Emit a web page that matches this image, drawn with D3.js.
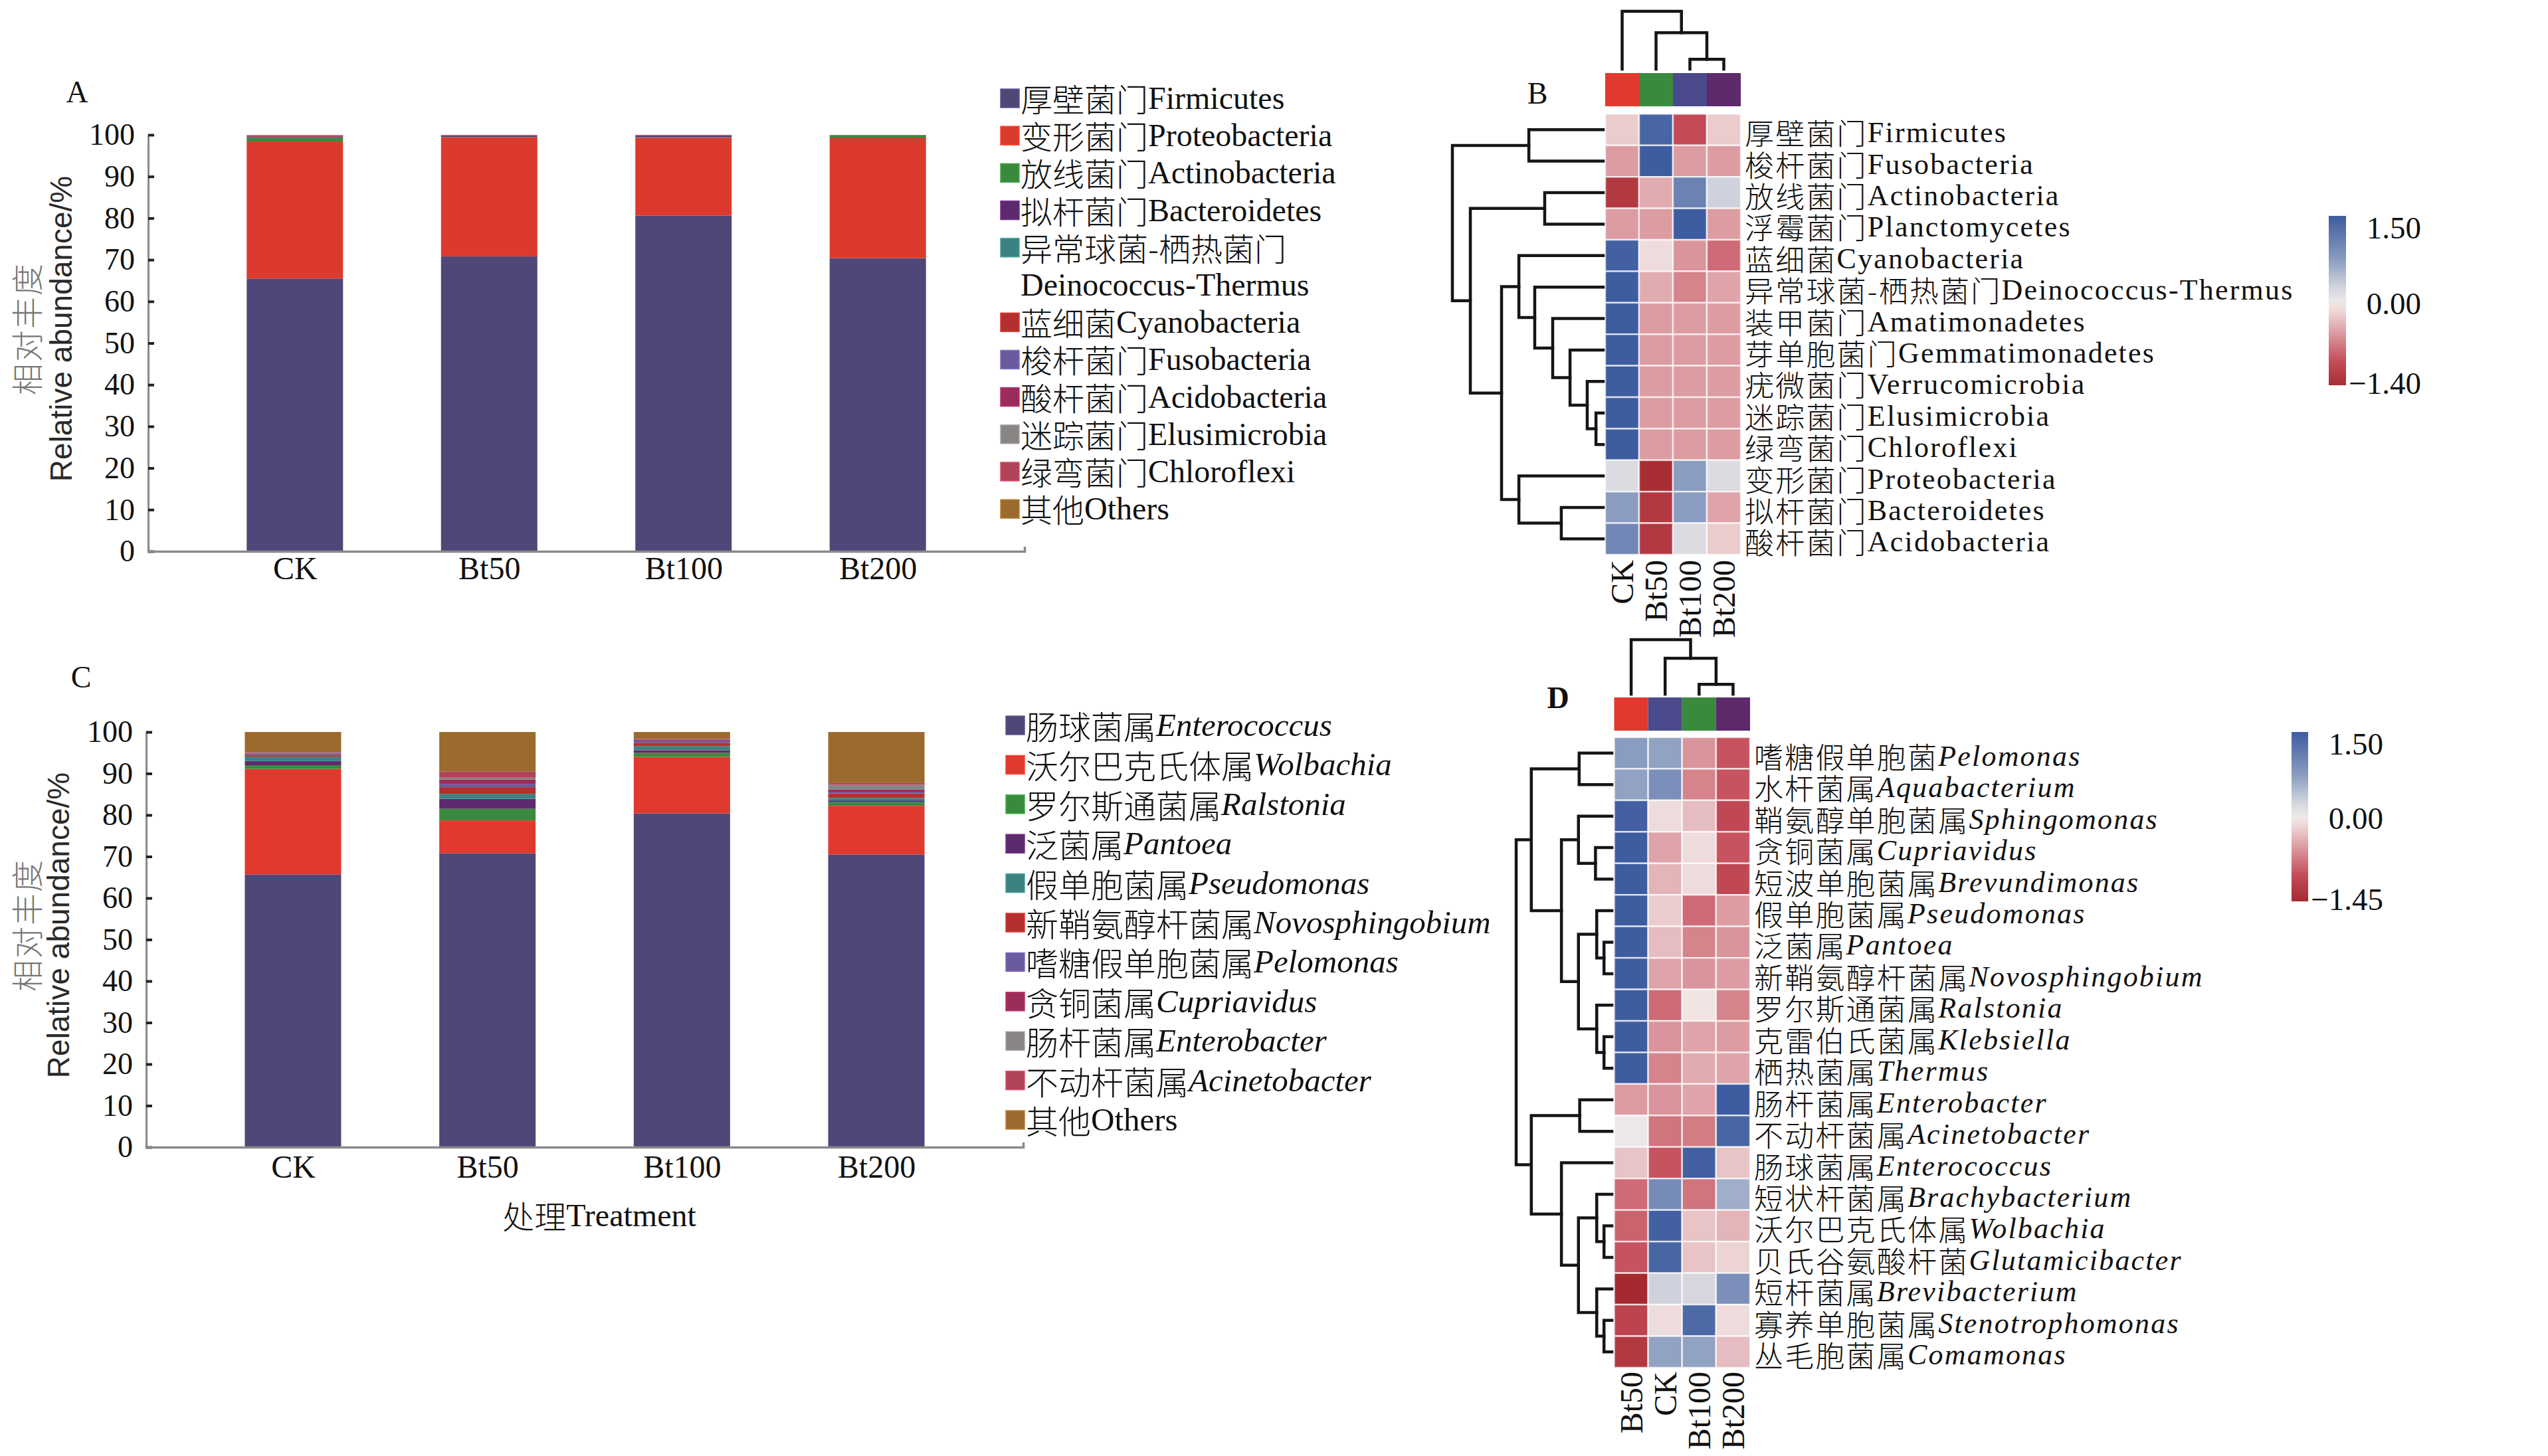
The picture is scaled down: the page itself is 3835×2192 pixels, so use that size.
<!DOCTYPE html>
<html><head><meta charset="utf-8">
<script src="https://cdn.jsdelivr.net/npm/d3@7"></script>
<style>html,body{margin:0;padding:0;background:#fff}svg{display:block}</style>
</head><body>
<svg id="fig" width="3835" height="2192"></svg>
<script>
// ---------------- DATA ----------------
const treatments = ["CK", "Bt50", "Bt100", "Bt200"];
const yTickValues = [0, 10, 20, 30, 40, 50, 60, 70, 80, 90, 100];

// Panel A: phylum-level relative abundance (%)
const phylumCN = ["厚壁菌门", "变形菌门", "放线菌门", "拟杆菌门", "异常球菌-栖热菌门", "蓝细菌", "梭杆菌门", "酸杆菌门", "迷踪菌门", "绿弯菌门", "其他"];
const phylumEN = ["Firmicutes", "Proteobacteria", "Actinobacteria", "Bacteroidetes", "Deinococcus-Thermus", "Cyanobacteria", "Fusobacteria", "Acidobacteria", "Elusimicrobia", "Chloroflexi", "Others"];
const phylumColors = ["#4e4777", "#dc3a2e", "#3a8a3e", "#5e2a6e", "#3b8380", "#b3302e", "#6a5a9e", "#9c2c5a", "#8a8585", "#b04358", "#9a6a2e"];
const phylumCK    = [65.5, 32.9, 0.9, 0.2, 0.05, 0.25, 0.05, 0.05, 0.03, 0.03, 0.04];
const phylumBt50  = [70.8, 28.6, 0.1, 0.3, 0.02, 0.12, 0.02, 0.02, 0.01, 0.01, 0.0];
const phylumBt100 = [80.6, 18.7, 0.1, 0.4, 0.02, 0.14, 0.02, 0.02, 0.0, 0.0, 0.0];
const phylumBt200 = [70.4, 28.8, 0.7, 0.05, 0.01, 0.02, 0.01, 0.01, 0.0, 0.0, 0.0];

// Panel C: genus-level relative abundance (%)
const genusCN = ["肠球菌属", "沃尔巴克氏体属", "罗尔斯通菌属", "泛菌属", "假单胞菌属", "新鞘氨醇杆菌属", "嗜糖假单胞菌属", "贪铜菌属", "肠杆菌属", "不动杆菌属", "其他"];
const genusEN = ["Enterococcus", "Wolbachia", "Ralstonia", "Pantoea", "Pseudomonas", "Novosphingobium", "Pelomonas", "Cupriavidus", "Enterobacter", "Acinetobacter", "Others"];
const genusItalic = [true, true, true, true, true, true, true, true, true, true, false];
const genusColors = ["#4e4777", "#e0392d", "#3a8a3e", "#5e2a6e", "#3b8380", "#b3302e", "#6a5a9e", "#9c2c5a", "#8a8585", "#b04358", "#9a6a2e"];
const genusCK    = [65.7, 25.4, 0.9, 1.0, 1.1, 0.4, 0.3, 0.2, 0.1, 0.1, 4.8];
const genusBt50  = [70.8, 7.9, 2.8, 2.4, 1.2, 1.6, 0.8, 1.0, 0.5, 1.5, 9.5];
const genusBt100 = [80.4, 13.6, 1.0, 0.6, 1.0, 0.8, 0.5, 0.3, 0.1, 0.1, 1.6];
const genusBt200 = [70.5, 11.7, 0.9, 0.4, 0.6, 1.1, 0.4, 0.5, 1.2, 0.4, 12.3];

// Panel B: phylum heatmap (z-score)
const heatBCols = ["CK", "Bt50", "Bt100", "Bt200"];
const heatBColColors = ["#e0392d", "#3a8a3e", "#4a4a8c", "#5e2a6b"];
const heatBRowCN = ["厚壁菌门", "梭杆菌门", "放线菌门", "浮霉菌门", "蓝细菌", "异常球菌-栖热菌门", "装甲菌门", "芽单胞菌门", "疣微菌门", "迷踪菌门", "绿弯菌门", "变形菌门", "拟杆菌门", "酸杆菌门"];
const heatBRowEN = ["Firmicutes", "Fusobacteria", "Actinobacteria", "Planctomycetes", "Cyanobacteria", "Deinococcus-Thermus", "Amatimonadetes", "Gemmatimonadetes", "Verrucomicrobia", "Elusimicrobia", "Chloroflexi", "Proteobacteria", "Bacteroidetes", "Acidobacteria"];
const heatBValues = [
  [-0.2, 1.4, -1.0, -0.2],
  [-0.5, 1.5, -0.5, -0.5],
  [-1.25, -0.4, 1.05, 0.3],
  [-0.5, -0.5, 1.5, -0.5],
  [1.45, -0.1, -0.55, -0.8],
  [1.5, -0.4, -0.65, -0.45],
  [1.5, -0.5, -0.5, -0.5],
  [1.5, -0.5, -0.5, -0.5],
  [1.5, -0.5, -0.5, -0.5],
  [1.5, -0.5, -0.5, -0.5],
  [1.5, -0.5, -0.5, -0.5],
  [0.2, -1.4, 0.75, 0.2],
  [0.75, -1.25, 0.75, -0.45],
  [1.0, -1.25, 0.2, -0.2]
];
// dendrograms: [height, left, right]; leaves are row/column indices
const heatBRowTree = [1.0, [0.493, 0, 1], [0.881, [0.388, 2, 3], [0.674, [0.559, 4, [0.454, 5, [0.335, 6, [0.22, 7, [0.106, 8, [0.048, 9, 10]]]]]], [0.559, 11, [0.278, 12, 13]]]]];
const heatBColTree = [1.0, 0, [0.63, 1, [0.17, 2, 3]]];
const heatBLegendTicks = [1.5, 0, -1.4];

// Panel D: genus heatmap (z-score)
const heatDCols = ["Bt50", "CK", "Bt100", "Bt200"];
const heatDColColors = ["#e0392d", "#4a4a8c", "#3a8a3e", "#5e2a6b"];
const heatDRowCN = ["嗜糖假单胞菌", "水杆菌属", "鞘氨醇单胞菌属", "贪铜菌属", "短波单胞菌属", "假单胞菌属", "泛菌属", "新鞘氨醇杆菌属", "罗尔斯通菌属", "克雷伯氏菌属", "栖热菌属", "肠杆菌属", "不动杆菌属", "肠球菌属", "短状杆菌属", "沃尔巴克氏体属", "贝氏谷氨酸杆菌", "短杆菌属", "寡养单胞菌属", "丛毛胞菌属"];
const heatDRowEN = ["Pelomonas", "Aquabacterium", "Sphingomonas", "Cupriavidus", "Brevundimonas", "Pseudomonas", "Pantoea", "Novosphingobium", "Ralstonia", "Klebsiella", "Thermus", "Enterobacter", "Acinetobacter", "Enterococcus", "Brachybacterium", "Wolbachia", "Glutamicibacter", "Brevibacterium", "Stenotrophomonas", "Comamonas"];
const heatDValues = [
  [0.75, 0.7, -0.55, -0.95],
  [0.7, 0.9, -0.65, -0.95],
  [1.45, -0.1, -0.3, -1.05],
  [1.5, -0.45, -0.1, -0.95],
  [1.5, -0.35, -0.1, -1.05],
  [1.5, -0.2, -0.8, -0.5],
  [1.5, -0.3, -0.65, -0.55],
  [1.5, -0.45, -0.55, -0.5],
  [1.5, -0.8, -0.05, -0.65],
  [1.5, -0.55, -0.45, -0.5],
  [1.5, -0.65, -0.4, -0.45],
  [-0.5, -0.55, -0.45, 1.5],
  [0.05, -0.75, -0.7, 1.4],
  [-0.25, -0.95, 1.45, -0.25],
  [-0.8, 0.95, -0.75, 0.6],
  [-0.85, 1.45, -0.25, -0.35],
  [-0.95, 1.4, -0.25, -0.15],
  [-1.45, 0.3, 0.25, 0.9],
  [-1.1, -0.1, 1.35, -0.1],
  [-1.25, 0.7, 0.7, -0.3]
];
const heatDRowTree = [1.0,
  [0.842, [0.342, 0, 1], [0.527, [0.349, 2, [0.171, 3, 4]], [0.349, [0.158, 5, [0.082, 6, 7]], [0.158, 8, [0.082, 9, 10]]]]],
  [0.842, [0.336, 11, 12], [0.527, 13, [0.349, [0.158, 14, [0.082, 15, 16]], [0.158, 17, [0.082, 18, 19]]]]]];
const heatDColTree = [1.0, 0, [0.66, 1, [0.18, 2, 3]]];
const heatDLegendTicks = [1.5, 0, -1.45];

// ---------------- STYLE ----------------
const SERIF = "'Liberation Serif','Times New Roman',serif";
const SANS = "'Liberation Sans',Arial,sans-serif";
const CJK = "'Noto Sans CJK SC','Noto Sans CJK JP',sans-serif";
const heatStops = [-1.45, -1.0, -0.5, 0, 0.3, 0.75, 1.5];
const heatStopColors = ["#a52a30", "#c34b58", "#dc9ca2", "#f3ecea", "#cfd2dc", "#8a9cc0", "#3e5ca0"];
const heatColor = d3.scaleLinear().domain(heatStops).range(heatStopColors).interpolate(d3.interpolateRgb).clamp(true);

const svg = d3.select("#fig");
svg.append("rect").attr("width", 3835).attr("height", 2192).attr("fill", "#fff");

function mixedLabel(sel, cn, en, italic, size, spacing) {
  sel.append("tspan").attr("font-family", CJK).attr("font-weight", 300).attr("font-size", size)
    .attr("letter-spacing", spacing || 0).text(cn);
  sel.append("tspan").attr("font-family", SERIF).attr("font-size", size)
    .attr("letter-spacing", spacing || 0)
    .attr("font-style", italic ? "italic" : "normal").text(en);
}

// ---------------- BAR PANELS ----------------
function barPanel(o) {
  const g = svg.append("g");
  const y = d3.scaleLinear().domain([0, 100]).range([o.y0, o.y100]);
  const x = d3.scalePoint().domain(treatments).range([o.x0, o.x1]).padding(0.755);
  const rows = treatments.map((t, i) => {
    const r = { t };
    o.keys.forEach((k, j) => r[k] = o.values[i][j]);
    return r;
  });
  const series = d3.stack().keys(o.keys)(rows);
  g.selectAll("g.layer").data(series).join("g").attr("class", "layer")
    .attr("fill", (d, i) => o.colors[i])
    .selectAll("rect").data(d => d).join("rect")
    .attr("x", d => x(d.data.t) - o.bw / 2)
    .attr("width", o.bw)
    .attr("y", d => y(d[1]))
    .attr("height", d => Math.max(0, y(d[0]) - y(d[1])));

  const ya = g.append("g").attr("transform", `translate(${o.x0},0)`)
    .call(d3.axisLeft(y).tickValues(yTickValues).tickSize(-9).tickSizeOuter(0).tickPadding(20));
  ya.select(".domain").attr("stroke", "#8a8a8a").attr("stroke-width", 3);
  ya.selectAll(".tick line").attr("stroke", "#222").attr("stroke-width", 4);
  ya.selectAll(".tick text").attr("font-family", SERIF).attr("font-size", 46).attr("fill", "#111");

  const xa = g.append("g").attr("transform", `translate(0,${o.y0})`)
    .call(d3.axisBottom(x).tickSize(0).tickSizeOuter(-7));
  xa.select(".domain").attr("stroke", "#8a8a8a").attr("stroke-width", 3.5);
  xa.selectAll(".tick text").attr("font-family", SERIF).attr("font-size", 48).attr("fill", "#111")
    .attr("y", o.xLabelY - o.y0).attr("dy", "0.35em");

  // axis titles
  g.append("text").attr("transform", `translate(${o.cnX},${o.titleY}) rotate(-90)`)
    .attr("text-anchor", "middle").attr("dominant-baseline", "central")
    .attr("font-family", CJK).attr("font-weight", 300).attr("font-size", 48).attr("letter-spacing", 2)
    .attr("fill", "#777").text("相对丰度");
  g.append("text").attr("transform", `translate(${o.enX},${o.titleY}) rotate(-90)`)
    .attr("text-anchor", "middle").attr("dominant-baseline", "central")
    .attr("font-family", SANS).attr("font-size", 46).attr("fill", "#2a2a2a").text("Relative abundance/%");

  g.append("text").attr("x", o.letterX).attr("y", o.letterY).attr("dominant-baseline", "central")
    .attr("text-anchor", "middle").attr("font-family", SERIF).attr("font-size", 46).attr("fill", "#111").text(o.letter);

  // legend
  const lg = g.append("g");
  let row = 0;
  o.cn.forEach((cn, i) => {
    const cy = o.legY + row * o.legDy;
    lg.append("rect").attr("x", o.legX).attr("y", cy - 13).attr("width", 28).attr("height", 28)
      .attr("fill", o.colors[i]).attr("stroke", d3.color(o.colors[i]).brighter(0.6)).attr("stroke-width", 1.5);
    if (o.wrap && o.wrap[i]) {
      lg.append("text").attr("x", o.legX + 30).attr("y", cy).attr("dominant-baseline", "central")
        .attr("fill", "#111").call(s => mixedLabel(s, cn, "", false, o.legFont));
      row++;
      lg.append("text").attr("x", o.legX + 30).attr("y", o.legY + row * o.legDy).attr("dominant-baseline", "central")
        .attr("fill", "#111").call(s => mixedLabel(s, "", o.en[i], false, o.legFont));
    } else {
      lg.append("text").attr("x", o.legX + 30).attr("y", cy).attr("dominant-baseline", "central")
        .attr("fill", "#111")
        .call(s => mixedLabel(s, cn, o.en[i], o.italic ? o.italic[i] : false, o.legFont));
    }
    row++;
  });
}

barPanel({
  keys: phylumEN, values: [phylumCK, phylumBt50, phylumBt100, phylumBt200], colors: phylumColors,
  x0: 223, x1: 1542, y0: 830, y100: 203, bw: 145, xLabelY: 855,
  cnX: 38, enX: 92, titleY: 495, letter: "A", letterX: 116, letterY: 138,
  cn: phylumCN, en: phylumEN, wrap: [false, false, false, false, true, false, false, false, false, false, false],
  legX: 1506, legY: 147, legDy: 56.2, legFont: 48
});

barPanel({
  keys: genusEN, values: [genusCK, genusBt50, genusBt100, genusBt200], colors: genusColors,
  x0: 220, x1: 1540, y0: 1727, y100: 1102, bw: 145, xLabelY: 1756,
  cnX: 38, enX: 88, titleY: 1393, letter: "C", letterX: 122, letterY: 1019,
  cn: genusCN, en: genusEN, italic: genusItalic,
  legX: 1514, legY: 1091, legDy: 59.4, legFont: 49
});

svg.append("text").attr("x", 902).attr("y", 1829).attr("text-anchor", "middle").attr("dominant-baseline", "central")
  .attr("fill", "#111").call(s => mixedLabel(s, "处理", "Treatment", false, 48));

// ---------------- HEATMAP PANELS ----------------
function treeSegments(node, leafPos, hPos, horizontal, segs) {
  if (typeof node === "number") return { p: leafPos(node), h: 0 };
  const [h, a, b] = node;
  const la = treeSegments(a, leafPos, hPos, horizontal, segs);
  const lb = treeSegments(b, leafPos, hPos, horizontal, segs);
  const hp = hPos(h);
  if (horizontal) {
    segs.push([[hPos(la.h), la.p], [hp, la.p], [hp, lb.p], [hPos(lb.h), lb.p]]);
  } else {
    segs.push([[la.p, hPos(la.h)], [la.p, hp], [lb.p, hp], [lb.p, hPos(lb.h)]]);
  }
  return { p: (la.p + lb.p) / 2, h };
}

function heatPanel(o) {
  const g = svg.append("g");
  const x = d3.scaleBand().domain(o.cols).range([o.x0, o.x1]);
  const y = d3.scaleBand().domain(d3.range(o.values.length)).range([o.y0, o.y1]);
  const cells = o.values.flatMap((r, i) => r.map((v, j) => ({ i, j, v })));
  g.selectAll("rect.cell").data(cells).join("rect").attr("class", "cell")
    .attr("x", d => x(o.cols[d.j])).attr("y", d => y(d.i))
    .attr("width", x.bandwidth()).attr("height", y.bandwidth())
    .attr("fill", d => heatColor(d.v))
    .attr("stroke", "rgba(255,255,255,0.7)").attr("stroke-width", 2.5);

  // column colour bar
  g.selectAll("rect.cb").data(o.cols).join("rect").attr("class", "cb")
    .attr("x", d => x(d)).attr("y", o.cbY0).attr("width", x.bandwidth()).attr("height", o.cbY1 - o.cbY0)
    .attr("fill", (d, i) => o.colColors[i]);

  // row labels
  g.selectAll("text.rl").data(o.rowCN).join("text").attr("class", "rl")
    .attr("x", o.labelX).attr("y", (d, i) => y(i) + y.bandwidth() / 2 + 4).attr("dominant-baseline", "central")
    .attr("fill", "#111")
    .each(function (d, i) { mixedLabel(d3.select(this), d, o.rowEN[i], o.italic, 44, 2.2); });

  // column labels
  g.selectAll("text.cl").data(o.cols).join("text").attr("class", "cl")
    .attr("transform", d => `translate(${x(d) + x.bandwidth() / 2},${o.colLabelY}) rotate(-90)`)
    .attr("text-anchor", "end").attr("dominant-baseline", "central")
    .attr("font-family", SERIF).attr("font-size", 48).attr("fill", "#111").text(d => d);

  // dendrograms
  const hx = d3.scaleLinear().domain([0, 1]).range([o.rowLeafX, o.rowRootX]);
  const rsegs = [];
  treeSegments(o.rowTree, i => y(i) + y.bandwidth() / 2, hx, true, rsegs);
  const hy = d3.scaleLinear().domain([0, 1]).range([o.colLeafY, o.colRootY]);
  const csegs = [];
  treeSegments(o.colTree, j => x(o.cols[j]) + x.bandwidth() / 2, hy, false, csegs);
  const line = d3.line();
  g.selectAll("path.tree").data(rsegs.concat(csegs)).join("path").attr("class", "tree")
    .attr("d", line).attr("fill", "none").attr("stroke", "#151515").attr("stroke-width", 4.5)
    .attr("stroke-linejoin", "miter").attr("stroke-linecap", "square");

  // letter
  g.append("text").attr("x", o.letterX).attr("y", o.letterY).attr("text-anchor", "middle").attr("dominant-baseline", "central")
    .attr("font-family", SERIF).attr("font-size", 46).attr("font-weight", o.letterBold ? "bold" : "normal").attr("fill", "#111").text(o.letter);

  // colour legend
  const lo = d3.min(o.legendTicks), hi = d3.max(o.legendTicks);
  const gid = "grad" + o.letter;
  const grad = svg.append("defs").append("linearGradient").attr("id", gid)
    .attr("x1", 0).attr("x2", 0).attr("y1", 1).attr("y2", 0);
  d3.range(0, 1.0001, 0.05).forEach(t => {
    const v = lo + (hi - lo) * t;
    grad.append("stop").attr("offset", t).attr("stop-color", heatColor(v));
  });
  g.append("rect").attr("x", o.legX).attr("y", o.legY0).attr("width", o.legW).attr("height", o.legY1 - o.legY0)
    .attr("fill", `url(#${gid})`);
  const ly = d3.scaleLinear().domain([lo, hi]).range([o.legY1, o.legY0]);
  g.selectAll("text.lt").data(o.legendTicks).join("text").attr("class", "lt")
    .attr("x", o.legLabelR).attr("y", d => Math.min(Math.max(ly(d), o.legY0 + 18), o.legY1 - 3))
    .attr("text-anchor", "end").attr("dominant-baseline", "central")
    .attr("font-family", SERIF).attr("font-size", 47).attr("fill", "#111").text(d => d3.format(".2f")(d));
}

heatPanel({
  cols: heatBCols, colColors: heatBColColors, values: heatBValues, rowCN: heatBRowCN, rowEN: heatBRowEN, italic: false,
  x0: 2416, x1: 2620, y0: 171.5, y1: 835, cbY0: 110, cbY1: 160, labelX: 2626, colLabelY: 843,
  rowTree: heatBRowTree, rowLeafX: 2413, rowRootX: 2186, colTree: heatBColTree, colLeafY: 104, colRootY: 17,
  letter: "B", letterX: 2314, letterY: 140,
  legendTicks: heatBLegendTicks, legX: 3505, legW: 26, legY0: 325, legY1: 580, legLabelR: 3644
});

heatPanel({
  cols: heatDCols, colColors: heatDColColors, values: heatDValues, rowCN: heatDRowCN, rowEN: heatDRowEN, italic: true,
  x0: 2429.5, x1: 2634, y0: 1110, y1: 2059, cbY0: 1050, cbY1: 1100, labelX: 2640, colLabelY: 2065,
  rowTree: heatDRowTree, rowLeafX: 2426, rowRootX: 2282, colTree: heatDColTree, colLeafY: 1045, colRootY: 963,
  letter: "D", letterBold: true, letterX: 2345, letterY: 1050,
  legendTicks: heatDLegendTicks, legX: 3449, legW: 25, legY0: 1102, legY1: 1357, legLabelR: 3587
});
</script>
</body></html>
